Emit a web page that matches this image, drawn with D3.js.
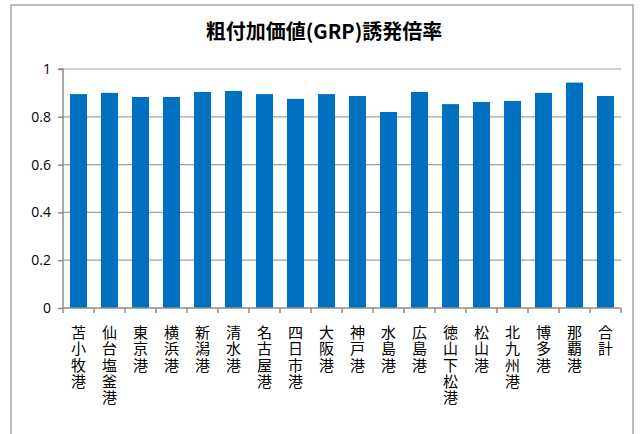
<!DOCTYPE html>
<html>
<head>
<meta charset="utf-8">
<script src="https://cdn.jsdelivr.net/npm/d3@7"></script>
<style>
  body { margin: 0; background: #fff; }
  text { font-family: "Noto Sans CJK JP", "Liberation Sans", sans-serif; fill: #000; }
</style>
</head>
<body>
<svg id="chart"></svg>
<script>
// data
const ports = ['苫小牧港', '仙台塩釜港', '東京港', '横浜港', '新潟港', '清水港', '名古屋港', '四日市港', '大阪港',
  '神戸港', '水島港', '広島港', '徳山下松港', '松山港', '北九州港', '博多港', '那覇港', '合計'];
const grpRatio = [0.895, 0.900, 0.883, 0.883, 0.904, 0.908, 0.895, 0.875, 0.895,
  0.887, 0.820, 0.904, 0.853, 0.862, 0.866, 0.900, 0.943, 0.887];
const yTicks = [0, 0.2, 0.4, 0.6, 0.8, 1];

const W = 641, H = 434;
const margin = { top: 69, right: 20, bottom: 126, left: 63 };

const svg = d3.select('#chart').attr('width', W).attr('height', H);

// outer frame
svg.append('rect')
  .attr('x', 11).attr('y', 5).attr('width', 622).attr('height', H + 10)
  .attr('fill', '#fff').attr('stroke', '#a6a6a6').attr('stroke-width', 1.5);

svg.append('text')
  .attr('x', 324).attr('y', 39)
  .attr('text-anchor', 'middle')
  .style('font-size', '20px').style('font-weight', 'bold')
  .text('粗付加価値(GRP)誘発倍率');

const x = d3.scaleBand()
  .domain(ports)
  .range([margin.left, W - margin.right])
  .paddingInner(0.45).paddingOuter(0.225);

const y = d3.scaleLinear()
  .domain([0, 1])
  .range([H - margin.bottom, margin.top]);

// gridlines
svg.append('g')
  .selectAll('line')
  .data(yTicks.slice(1))
  .join('line')
  .attr('x1', margin.left).attr('x2', W - margin.right)
  .attr('y1', d => y(d)).attr('y2', d => y(d))
  .attr('stroke', '#a0a0a0').attr('stroke-width', 1.2);

// bars
svg.append('g')
  .selectAll('rect')
  .data(ports)
  .join('rect')
  .attr('x', d => x(d))
  .attr('width', x.bandwidth())
  .attr('y', (d, i) => y(grpRatio[i]))
  .attr('height', (d, i) => y(0) - y(grpRatio[i]))
  .attr('fill', '#0070c0');

// y axis
const yAxis = svg.append('g')
  .attr('transform', `translate(${margin.left},0)`)
  .call(d3.axisLeft(y).tickValues(yTicks).tickSize(5).tickPadding(7).tickFormat(d3.format('~g')));
yAxis.selectAll('line, path').attr('stroke', '#8c8c8c').attr('stroke-width', 1.5);
yAxis.select('.domain').attr('d', `M-5,${y(1)}H0V${y(0)}`);
yAxis.selectAll('text').style('font-size', '14px')
  .style('font-family', '"Open Sans", "Liberation Sans", sans-serif');

// x axis: tick marks at band boundaries
const step = x.step();
const bounds = d3.range(ports.length + 1).map(i => margin.left + i * step);
svg.append('line')
  .attr('x1', margin.left).attr('x2', W - margin.right)
  .attr('y1', y(0)).attr('y2', y(0))
  .attr('stroke', '#8c8c8c').attr('stroke-width', 1.5);
svg.append('g')
  .selectAll('line')
  .data(bounds)
  .join('line')
  .attr('x1', d => d).attr('x2', d => d)
  .attr('y1', y(0)).attr('y2', y(0) + 5)
  .attr('stroke', '#8c8c8c').attr('stroke-width', 1.5);

// vertical category labels (tategaki)
svg.append('g')
  .selectAll('text')
  .data(ports)
  .join('text')
  .attr('x', d => x(d) + x.bandwidth() / 2)
  .attr('y', y(0) + 17)
  .style('writing-mode', 'vertical-rl')
  .style('text-orientation', 'upright')
  .style('letter-spacing', '1.3px')
  .style('font-size', '15px')
  .text(d => d);
</script>
</body>
</html>
